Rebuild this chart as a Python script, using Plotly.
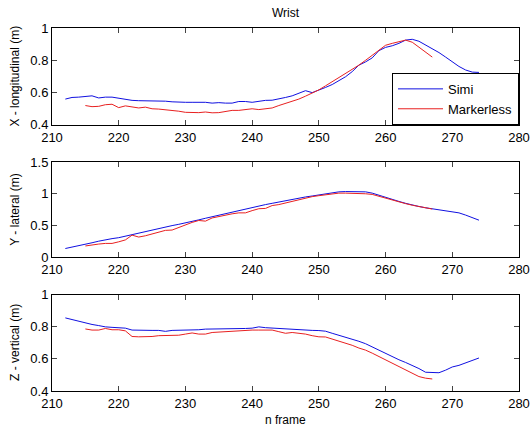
import plotly.graph_objects as go
from plotly.subplots import make_subplots

# ---- data ----
frames_simi = list(range(212, 275))
frames_ml = list(range(215, 268))

x_simi = [0.560, 0.570, 0.572, 0.575, 0.580, 0.567, 0.572, 0.572, 0.565, 0.555,
          0.552, 0.550, 0.550, 0.548, 0.550, 0.547, 0.543, 0.540, 0.540, 0.540,
          0.540, 0.540, 0.535, 0.538, 0.535, 0.535, 0.545, 0.545, 0.540, 0.548,
          0.552, 0.553, 0.560, 0.570, 0.580, 0.595, 0.612, 0.600, 0.615, 0.632,
          0.650, 0.672, 0.698, 0.730, 0.770, 0.790, 0.815, 0.860, 0.880, 0.890,
          0.905, 0.925, 0.930, 0.918, 0.895, 0.872, 0.848, 0.820, 0.790, 0.762,
          0.740, 0.727, 0.725]
x_ml = [0.520, 0.513, 0.515, 0.525, 0.528, 0.507, 0.518, 0.510, 0.505, 0.510,
        0.500, 0.498, 0.495, 0.490, 0.485, 0.478, 0.475, 0.476, 0.480, 0.475,
        0.476, 0.485, 0.490, 0.490, 0.495, 0.500, 0.495, 0.500, 0.505, 0.520,
        0.532, 0.545, 0.560, 0.578, 0.597, 0.617, 0.642, 0.667, 0.693, 0.720,
        0.745, 0.770, 0.800, 0.830, 0.865, 0.893, 0.905, 0.915, 0.925, 0.912,
        0.882, 0.850, 0.820]

y_simi = [0.14, 0.16, 0.18, 0.205, 0.23, 0.255, 0.28, 0.295, 0.31, 0.335,
          0.36, 0.38, 0.40, 0.425, 0.45, 0.475, 0.50, 0.52, 0.54, 0.565,
          0.59, 0.615, 0.64, 0.66, 0.68, 0.705, 0.73, 0.755, 0.78, 0.805,
          0.83, 0.85, 0.87, 0.895, 0.92, 0.935, 0.95, 0.965, 0.98, 1.0,
          1.02, 1.03, 1.035, 1.035, 1.035, 1.03, 1.01, 0.975, 0.94, 0.91,
          0.88, 0.85, 0.82, 0.80, 0.78, 0.765, 0.75, 0.735, 0.72, 0.70,
          0.665, 0.625, 0.585]
y_ml = [0.18, 0.20, 0.21, 0.22, 0.22, 0.245, 0.275, 0.35, 0.32, 0.34,
        0.37, 0.40, 0.425, 0.43, 0.47, 0.52, 0.55, 0.58, 0.57, 0.62,
        0.645, 0.67, 0.685, 0.70, 0.70, 0.735, 0.765, 0.77, 0.815, 0.83,
        0.855, 0.88, 0.91, 0.94, 0.955, 0.97, 0.985, 1.0, 1.01, 1.01,
        1.01, 1.005, 1.0, 0.99, 0.96, 0.93, 0.895, 0.87, 0.845, 0.82,
        0.80, 0.78, 0.76]

z_simi = [0.856, 0.845, 0.835, 0.825, 0.815, 0.808, 0.800, 0.797, 0.795, 0.792,
          0.780, 0.778, 0.778, 0.778, 0.778, 0.772, 0.778, 0.778, 0.780, 0.780,
          0.782, 0.786, 0.786, 0.787, 0.788, 0.790, 0.790, 0.790, 0.792, 0.800,
          0.795, 0.792, 0.792, 0.790, 0.786, 0.783, 0.780, 0.778, 0.777, 0.773,
          0.760, 0.748, 0.735, 0.722, 0.710, 0.695, 0.675, 0.652, 0.630, 0.612,
          0.595, 0.578, 0.560, 0.540, 0.517, 0.514, 0.514, 0.530, 0.550, 0.560,
          0.575, 0.590, 0.606]
z_ml = [0.787, 0.780, 0.780, 0.790, 0.782, 0.782, 0.775, 0.740, 0.738, 0.738,
        0.740, 0.745, 0.745, 0.745, 0.748, 0.755, 0.762, 0.755, 0.755, 0.765,
        0.768, 0.770, 0.772, 0.775, 0.777, 0.780, 0.780, 0.780, 0.780, 0.770,
        0.760, 0.765, 0.760, 0.755, 0.745, 0.738, 0.737, 0.725, 0.712, 0.700,
        0.685, 0.668, 0.655, 0.636, 0.615, 0.595, 0.575, 0.555, 0.535, 0.510,
        0.490, 0.480, 0.475]

x_ticks = [210, 220, 230, 240, 250, 260, 270, 280]
series_names = ["Simi", "Markerless"]
axis_titles = ["X - longitudinal (m)", "Y - lateral (m)", "Z - vertical (m)"]
y_ranges = [[0.4, 1.0], [0.0, 1.5], [0.4, 1.0]]
y_dticks = [0.2, 0.5, 0.2]

BLUE = "#1010e0"
RED = "#e82020"
FONT = "Liberation Sans, Arial, sans-serif"

fig = make_subplots(rows=3, cols=1)

sets = [(x_simi, x_ml), (y_simi, y_ml), (z_simi, z_ml)]
for i, (s, m) in enumerate(sets):
    fig.add_trace(go.Scatter(x=frames_simi, y=s, mode="lines", name=series_names[0],
                             line=dict(color=BLUE, width=1), showlegend=(i == 0)),
                  row=i + 1, col=1)
    fig.add_trace(go.Scatter(x=frames_ml, y=m, mode="lines", name=series_names[1],
                             line=dict(color=RED, width=1), showlegend=(i == 0)),
                  row=i + 1, col=1)

domains = [[0.733, 1.0], [0.368, 0.631], [0.0, 0.265]]
for i in range(3):
    xa = "xaxis" if i == 0 else f"xaxis{i+1}"
    ya = "yaxis" if i == 0 else f"yaxis{i+1}"
    fig.layout[xa].update(range=[210, 280], tickvals=x_ticks, ticks="inside", ticklen=5,
                          showline=True, linecolor="black", linewidth=1, mirror="ticks",
                          showgrid=False, zeroline=False, automargin=False, domain=[0, 1],
                          tickfont=dict(size=13, color="black", family=FONT))
    fig.layout[ya].update(range=y_ranges[i], dtick=y_dticks[i], tick0=0, ticks="inside", ticklen=5,
                          showline=True, linecolor="black", linewidth=1, mirror="ticks",
                          showgrid=False, zeroline=False, domain=domains[i], automargin=False,
                          tickfont=dict(size=13, color="black", family=FONT))
    fig.add_annotation(text=axis_titles[i], xref="paper", yref="paper",
                       x=-0.079, y=(domains[i][0] + domains[i][1]) / 2,
                       xanchor="center", yanchor="middle",
                       textangle=-90, showarrow=False,
                       font=dict(size=12, color="black", family=FONT))

fig.add_annotation(text="Wrist", xref="paper", yref="paper", x=0.5, y=1.042,
                   xanchor="center", yanchor="middle",
                   showarrow=False, font=dict(size=12, color="black", family=FONT))
fig.add_annotation(text="n frame", xref="paper", yref="paper", x=0.5, y=-0.08,
                   xanchor="center", yanchor="middle",
                   showarrow=False, font=dict(size=12, color="black", family=FONT))

fig.update_layout(
    width=530, height=429,
    margin=dict(l=52, r=11, t=28, b=38, autoexpand=False),
    paper_bgcolor="white", plot_bgcolor="white",
    font=dict(family=FONT, color="black"),
    legend=dict(x=1, y=0.733, xanchor="right", yanchor="bottom",
                bordercolor="black", borderwidth=1, bgcolor="white",
                font=dict(size=13, color="black", family=FONT),
                tracegroupgap=0, itemwidth=45),
)

fig.write_html("out.html", config={"displayModeBar": False},
               post_script="document.body.style.margin='0';")
